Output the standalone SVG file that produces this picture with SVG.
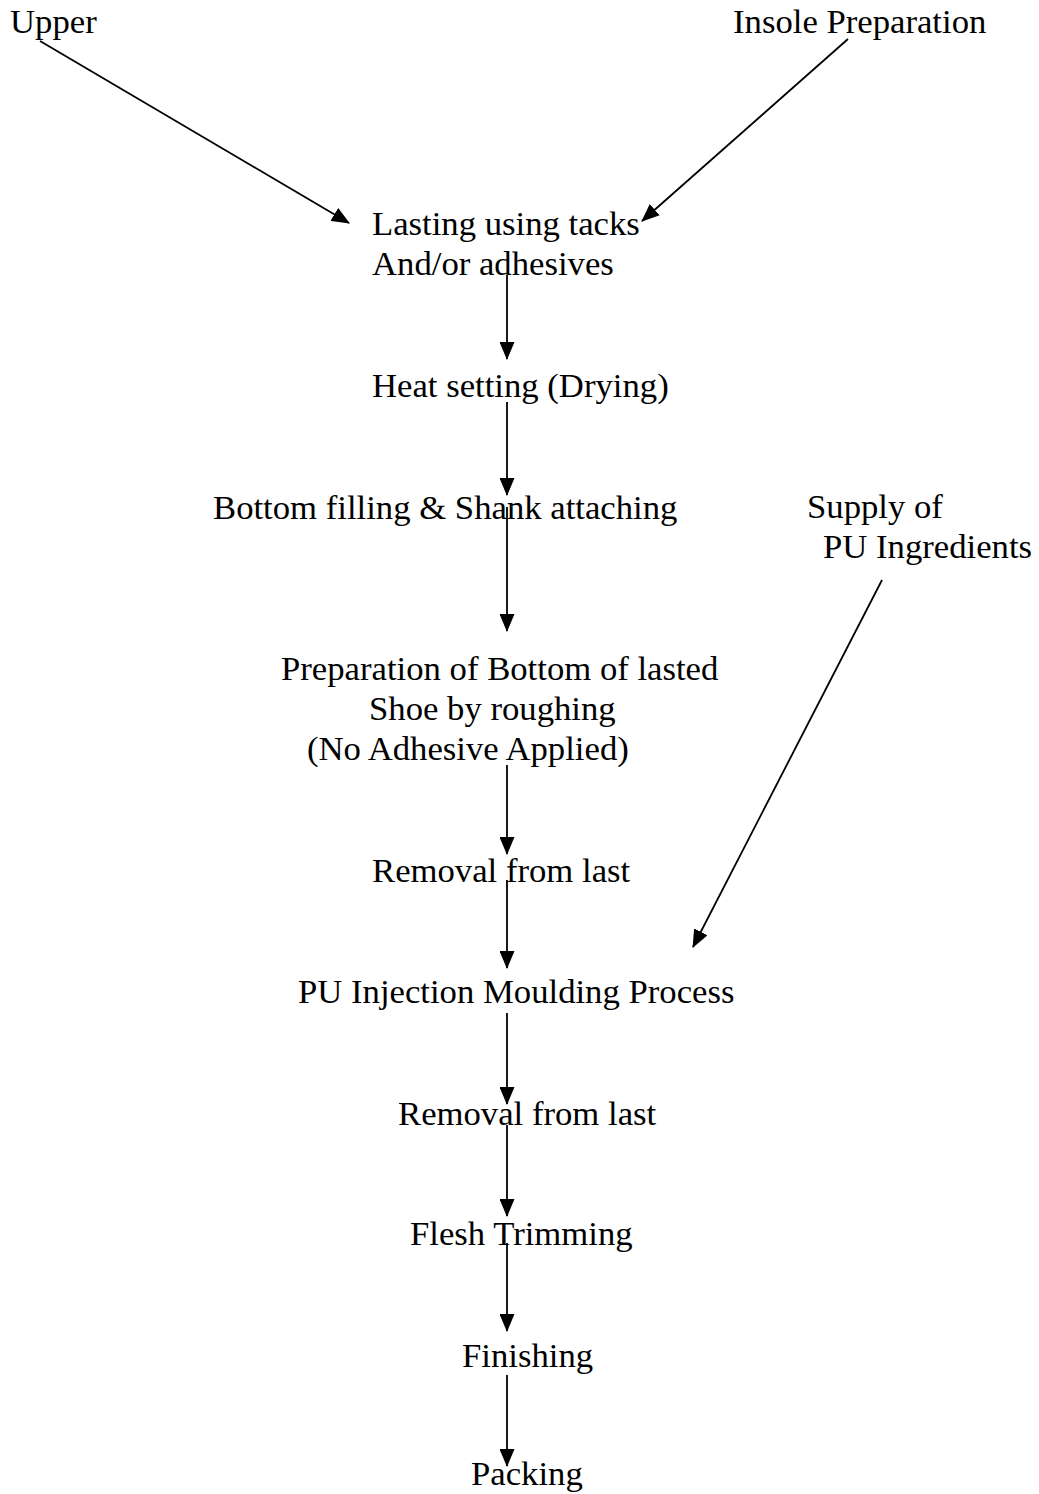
<svg xmlns="http://www.w3.org/2000/svg" width="1039" height="1494" viewBox="0 0 1039 1494">
<defs>
<style>
text { font-family: "Liberation Serif", "Times New Roman", serif; font-size: 34.7px; fill: #000; }
.c { stroke: #000; stroke-width: 1.8; fill: none; }
</style>
<marker id="ah" viewBox="0 0 18 15" refX="17" refY="7.5" markerWidth="18" markerHeight="15" markerUnits="userSpaceOnUse" orient="auto">
<path d="M0,0 L18,7.5 L0,15 Z" fill="#000"/>
</marker>
</defs>
<rect width="1039" height="1494" fill="#fff"/>
<g id="connectors">
<line class="c" marker-end="url(#ah)" x1="40" y1="41" x2="349" y2="223"/>
<line class="c" marker-end="url(#ah)" x1="848" y1="39" x2="642" y2="221"/>
<line class="c" marker-end="url(#ah)" x1="882" y1="580" x2="693" y2="947"/>
<line class="c" marker-end="url(#ah)" x1="507" y1="275" x2="507" y2="359"/>
<line class="c" marker-end="url(#ah)" x1="507" y1="402" x2="507" y2="495"/>
<line class="c" marker-end="url(#ah)" x1="507" y1="507" x2="507" y2="631"/>
<line class="c" marker-end="url(#ah)" x1="507" y1="765" x2="507" y2="854"/>
<line class="c" marker-end="url(#ah)" x1="507" y1="880" x2="507" y2="968"/>
<line class="c" marker-end="url(#ah)" x1="507" y1="1013" x2="507" y2="1104"/>
<line class="c" marker-end="url(#ah)" x1="507" y1="1125" x2="507" y2="1216"/>
<line class="c" marker-end="url(#ah)" x1="507" y1="1243" x2="507" y2="1331"/>
<line class="c" marker-end="url(#ah)" x1="507" y1="1375" x2="507" y2="1466"/>
</g>
<g id="upper"><text x="10" y="33">Upper</text></g>
<g id="insole"><text x="733" y="33">Insole Preparation</text></g>
<g id="lasting"><text x="372" y="235">Lasting using tacks</text><text x="372" y="275">And/or adhesives</text></g>
<g id="heat"><text x="372" y="397">Heat setting (Drying)</text></g>
<g id="bottom"><text x="213" y="519">Bottom filling &amp; Shank attaching</text></g>
<g id="supply"><text x="807" y="518">Supply of</text><text x="823" y="558">PU Ingredients</text></g>
<g id="preparation"><text x="281" y="680">Preparation of Bottom of lasted</text><text x="369" y="720">Shoe by roughing</text><text x="307" y="760">(No Adhesive Applied)</text></g>
<g id="removal1"><text x="372" y="882">Removal from last</text></g>
<g id="pu"><text x="298" y="1003">PU Injection Moulding Process</text></g>
<g id="removal2"><text x="398" y="1125">Removal from last</text></g>
<g id="flesh"><text x="410" y="1245">Flesh Trimming</text></g>
<g id="finishing"><text x="462" y="1367">Finishing</text></g>
<g id="packing"><text x="471" y="1485">Packing</text></g>
</svg>
